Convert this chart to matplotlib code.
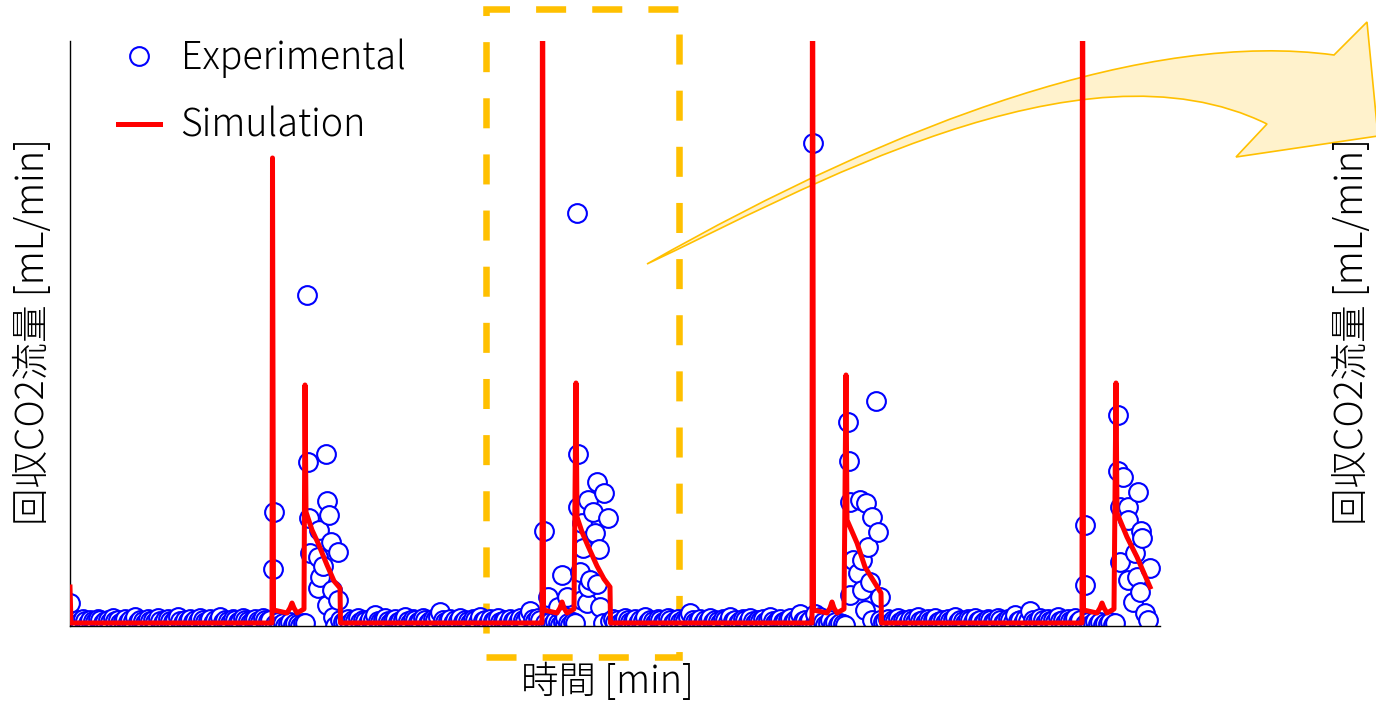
import numpy as np
import matplotlib.pyplot as plt
from matplotlib.patches import Rectangle, PathPatch
from matplotlib.path import Path

plt.rcParams['font.family'] = ['Noto Sans CJK JP', 'DejaVu Sans']
plt.rcParams['font.weight'] = 'light'

W, H = 1376, 705

# --- experimental data -------------------------------------------------
# baseline stretches, one reading every 30 s
base1_t = np.arange(0, 40.5, 0.5)
base1_q = [2.3, 0.5, 0.3, 0.6, 0.4, 0.7, 0.5, 0.3, 0.6, 0.5,
           0.4, 0.7, 0.6, 0.3, 0.5, 0.6, 0.4, 0.8, 0.5, 0.6,
           0.3, 0.5, 0.7, 0.4, 0.6, 0.5, 0.9, 0.4, 0.6, 0.5,
           0.3, 0.7, 0.5, 0.6, 0.4, 0.8, 0.5, 0.3, 0.6, 0.7,
           0.5, 0.4, 0.6, 0.9, 0.5, 0.3, 0.6, 0.5, 0.7, 0.4,
           0.6, 0.5, 0.8, 0.6, 0.4, 0.5, 0.7, 0.3, 0.6, 0.5,
           0.9, 0.4, 0.6, 0.5, 0.3, 0.7, 0.6, 0.4, 0.5, 0.8,
           0.6, 0.5, 0.3, 0.6, 0.7, 0.5, 0.4, 0.8, 0.6, 0.5, 0.6]
base2_t = np.arange(54, 94.5, 0.5)
base2_q = [0.6, 0.4, 0.5, 0.7, 0.3, 0.6, 0.5, 0.8, 0.4, 0.6,
           0.5, 0.3, 0.7, 0.6, 1.1, 0.5, 0.4, 0.6, 0.8, 0.5,
           0.3, 0.6, 0.7, 0.4, 0.5, 0.6, 0.9, 0.5, 0.3, 0.7,
           0.6, 0.4, 0.5, 0.8, 0.6, 0.3, 0.5, 0.7, 0.6, 0.9,
           1.4, 0.6, 0.4, 0.5, 0.7, 0.3, 0.6, 0.5, 0.8, 0.4,
           0.6, 0.5, 0.3, 0.7, 0.6, 0.4, 0.9, 0.5, 0.6, 0.3,
           0.7, 0.5, 0.6, 0.8, 0.4, 0.5, 0.6, 0.3, 0.7, 0.5,
           0.6, 0.4, 0.8, 0.6, 0.5, 1.0, 1.5, 0.7, 0.5, 0.8, 0.6]
base3_t = np.arange(108, 148.5, 0.5)
base3_q = [0.5, 0.7, 0.4, 0.6, 0.3, 0.5, 0.8, 0.6, 0.4, 0.5,
           0.7, 0.3, 0.6, 0.5, 0.9, 0.4, 0.6, 0.5, 0.3, 0.7,
           0.6, 0.4, 0.5, 0.8, 0.6, 0.3, 0.5, 0.7, 0.4, 0.6,
           0.5, 0.9, 1.3, 0.6, 0.4, 0.5, 0.7, 0.3, 0.6, 0.5,
           0.8, 0.4, 0.6, 0.5, 0.3, 0.7, 0.6, 0.4, 0.9, 0.5,
           0.6, 0.3, 0.5, 0.7, 0.6, 0.4, 0.8, 0.5, 0.3, 0.6,
           0.5, 0.7, 0.4, 0.6, 0.9, 0.5, 0.3, 0.6, 0.7, 0.4,
           0.5, 0.6, 0.8, 0.4, 0.6, 0.7, 1.2, 0.5, 0.6, 0.4, 0.6]
base4_t = np.arange(162, 202.5, 0.5)
base4_q = [0.6, 0.4, 0.5, 0.7, 0.3, 0.6, 0.5, 0.8, 0.4, 0.6,
           0.5, 0.3, 0.7, 0.6, 0.4, 0.9, 0.5, 0.6, 0.3, 0.7,
           0.5, 0.6, 0.8, 0.4, 0.5, 0.6, 0.3, 0.7, 0.5, 0.6,
           0.9, 0.4, 0.6, 0.5, 0.3, 0.7, 0.6, 0.4, 0.8, 0.5,
           0.6, 0.3, 0.5, 0.7, 0.6, 0.4, 0.5, 0.8, 0.6, 0.3,
           0.5, 0.7, 0.6, 0.4, 1.1, 0.5, 0.6, 0.3, 0.7, 0.5,
           1.5, 0.6, 0.4, 0.5, 0.8, 0.6, 0.3, 0.7, 0.5, 0.6,
           0.4, 0.9, 0.5, 0.6, 0.3, 0.7, 0.5, 0.6, 0.8, 0.4, 0.6]

# low readings between the two simulated spikes of each step
gap1_t = np.arange(41, 47.5, 0.5)
gap1_q = [0.2, 0.4, 0.1, 0.3, 0.0, 0.2, 0.4, 0.1, 0.3, 0.2, 0.0, 0.3, 0.3]
gap2_t = np.arange(95, 101.5, 0.5)
gap2_q = [0.3, 0.1, 0.4, 0.2, 0.5, 0.3, 0.1, 0.4, 0.2, 0.3, 0.1, 0.4, 0.3]
gap3_t = np.arange(149, 155.5, 0.5)
gap3_q = [0.3, 0.5, 0.2, 0.4, 0.1, 0.3, 0.6, 0.2, 0.4, 0.1, 0.3, 0.2, 0.1]
gap4_t = np.arange(203, 209.5, 0.5)
gap4_q = [0.2, 0.4, 0.1, 0.3, 0.5, 0.2, 0.4, 0.1, 0.3, 0.2, 0.4, 0.1, 0.3]

# readings around each regeneration step
peak1_t = [40.6, 40.8, 47.4, 47.5, 47.8, 48.0, 49.6, 49.6, 49.8, 50.0, 50.6, 51.2,
           51.3, 51.4, 51.8, 52.2, 52.4, 52.6, 53.0, 53.6, 53.6]
peak1_q = [5.7, 11.4, 33.1, 16.4, 10.8, 7.3, 6.9, 3.8, 9.6, 4.9, 6.0, 17.2,
           12.5, 2.1, 11.1, 8.4, 3.6, 0.9, 0.0, 7.4, 2.6]
peak2_t = [94.8, 95.6, 97.6, 98.4, 99.0, 99.4, 101.4, 101.6, 101.6, 102.0, 102.4,
           102.4, 102.6, 103.4, 103.6, 103.6, 104.0, 104.6, 105.0, 105.4, 105.4,
           105.8, 106.0, 106.6, 106.8, 107.6]
peak2_q = [9.5, 2.9, 1.9, 5.1, 0.9, 2.9, 41.3, 17.2, 11.9, 5.4, 10.3,
           2.6, 7.8, 2.3, 12.6, 3.9, 4.6, 11.4, 9.3, 14.4, 4.2,
           7.7, 1.9, 0.3, 13.3, 10.8]
peak3_t = [148.6, 149.0, 150.0, 155.6, 155.8, 156.0, 156.0, 156.6, 157.6, 158.0,
           158.4, 158.4, 159.0, 159.2, 159.6, 160.0, 160.4, 160.4, 161.2, 161.6,
           162.0]
peak3_q = [48.3, 1.2, 0.9, 20.4, 16.5, 12.4, 3.1, 6.6, 5.3, 12.6,
           6.6, 3.6, 1.6, 12.3, 7.9, 4.4, 10.9, 0.6, 22.5, 9.4,
           2.9]
peak4_t = [203.0, 203.0, 209.6, 209.6, 210.0, 210.0, 210.6, 211.6, 211.6, 211.6,
           212.6, 213.0, 213.4, 213.6, 214.0, 214.2, 214.4, 215.0, 215.6, 216.0]
peak4_q = [10.1, 4.1, 21.1, 15.5, 11.9, 6.4, 14.9, 11.9, 10.6, 4.6,
           2.4, 7.3, 4.9, 13.4, 3.4, 9.5, 8.8, 1.3, 0.6, 5.8]

# --- simulation ----------------------------------------------------------
sim1_t = [0.0, 0.2, 40.4, 40.5, 40.7, 43.4, 44.0, 44.4, 44.8, 45.4, 46.8, 47.0,
          47.2, 48.4, 49.6, 51.4, 52.8, 54.0, 54.1]
sim1_q = [3.9, 0.3, 0.3, 46.8, 1.6, 1.3, 1.8, 2.3, 1.8, 1.3, 1.7, 24.1,
          11.4, 9.6, 8.3, 6.1, 4.5, 3.8, 0.3]
sim2_t = [94.4, 94.5, 94.7, 97.4, 98.0, 98.4, 98.8, 99.4, 100.8, 101.2, 101.4,
          102.4, 103.6, 105.4, 106.8, 108.0, 108.1]
sim2_q = [0.3, 80.0, 1.6, 1.3, 1.8, 2.4, 1.8, 1.3, 1.7, 24.3, 10.9,
          9.4, 8.0, 6.0, 4.7, 3.9, 0.3]
sim3_t = [148.4, 148.5, 148.7, 151.4, 152.0, 152.4, 152.8, 153.4, 154.8, 155.2,
          155.4, 157.4, 159.0, 160.6, 162.2, 162.3]
sim3_q = [0.3, 80.0, 1.6, 1.3, 1.8, 2.4, 1.8, 1.3, 1.7, 25.1,
          10.6, 8.3, 5.9, 4.6, 3.3, 0.3]
sim4_t = [202.4, 202.5, 202.7, 205.4, 206.0, 206.4, 206.8, 207.4, 208.8, 209.2,
          209.4, 211.4, 213.4, 216.0]
sim4_q = [0.3, 80.0, 1.6, 1.3, 1.8, 2.3, 1.8, 1.3, 1.7, 24.3,
          11.3, 8.9, 6.9, 3.9]

exp_t = np.concatenate([base1_t, gap1_t, peak1_t, base2_t, gap2_t, peak2_t,
                        base3_t, gap3_t, peak3_t, base4_t, gap4_t, peak4_t])
exp_q = np.concatenate([base1_q, gap1_q, peak1_q, base2_q, gap2_q, peak2_q,
                        base3_q, gap3_q, peak3_q, base4_q, gap4_q, peak4_q])
order = np.argsort(exp_t, kind='stable')
exp_t, exp_q = exp_t[order], exp_q[order]

sim_t = sim1_t + sim2_t + sim3_t + sim4_t
sim_q = sim1_q + sim2_q + sim3_q + sim4_q


def fx(px):
    return px / W


def fy(py):
    return 1 - py / H


fig = plt.figure(figsize=(W / 100, H / 100), dpi=100)
ax = fig.add_axes([fx(70), fy(626), (1160 - 70) / W, (626 - 41) / H])
ax.patch.set_visible(False)

ax.plot(exp_t, exp_q, 'o', ms=13.5, mfc='white', mec='#0000FF', mew=1.5,
        label='Experimental', zorder=2)
ax.plot(sim_t, sim_q, '-', color='#FF0000', lw=3.6, label='Simulation', zorder=3)

ax.set_xlim(0, 218)
ax.set_ylim(0, 58.5)
ax.set_xticks([])
ax.set_yticks([])
for s in ['top', 'right']:
    ax.spines[s].set_visible(False)
for s in ['left', 'bottom']:
    ax.spines[s].set_linewidth(1.0)

fs = 27
leg = fig.legend(loc='upper left', bbox_to_anchor=(fx(118), fy(39)),
                 frameon=False, fontsize=fs, borderpad=0, borderaxespad=0,
                 handlelength=1.13, handletextpad=0.54, labelspacing=0.74)

fig.text(fx(607), fy(682), '時間 [min]', fontsize=fs, ha='center', va='center')
fig.text(fx(33), fy(332), '回収CO2流量 [mL/min]', fontsize=fs, ha='center',
         va='center', rotation=90)
fig.text(fx(1352), fy(332), '回収CO2流量 [mL/min]', fontsize=fs, ha='center',
         va='center', rotation=90)

# dashed highlight box
box = Rectangle((fx(486), fy(657)), fx(679) - fx(486), fy(9) - fy(657),
                transform=fig.transFigure, fill=False, edgecolor='#FFC000',
                lw=4.7, linestyle=(0, (4.6, 4.0)), zorder=-1)
fig.add_artist(box)

# curved block arrow pointing to the right
pts = [(647, 264), (900, 120), (1150, 30), (1334, 55),
       (1367, 22), (1378, 136), (1236, 157), (1267, 124),
       (1080, 32), (800, 192), (647, 264), (647, 264)]
codes = [Path.MOVETO, Path.CURVE4, Path.CURVE4, Path.CURVE4,
         Path.LINETO, Path.LINETO, Path.LINETO, Path.LINETO,
         Path.CURVE4, Path.CURVE4, Path.CURVE4, Path.CLOSEPOLY]
arrow = Path([(fx(x), fy(y)) for x, y in pts], codes)
fig.add_artist(PathPatch(arrow, transform=fig.transFigure, facecolor='#FFF2CC',
                         edgecolor='#FFC000', lw=1.2, zorder=-1))

fig.savefig('out.png', dpi=100)
